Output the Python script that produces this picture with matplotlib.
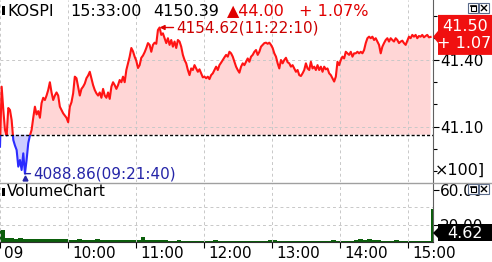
import numpy as np
import matplotlib
matplotlib.use("Agg")
import matplotlib.pyplot as plt
from matplotlib.patches import Rectangle, Polygon
from matplotlib.transforms import ScaledTranslation

#--- values
index_name = "KOSPI"
last_time = "15:33:00"
prev_close = 4106.39
close = 4150.39
high_time = "11:22:10"
low_time = "09:21:40"

# index level, one sample every 88 s starting 09:00
price_morning = [
    4101, 4128, 4117.5, 4108.5, 4106, 4118.4, 4117.5, 4113, 4104, 4101.5,
    4099.5, 4092, 4095, 4090.5, 4098, 4088.86, 4095, 4102.6, 4106, 4108.5,
    4114, 4119, 4115.5, 4117, 4114, 4120.6, 4123, 4122, 4124, 4126.5,
    4130, 4125.4, 4122, 4124, 4125.4, 4124, 4119, 4117.5, 4116, 4115,
    4114, 4112, 4119, 4121, 4125, 4132.5, 4131.8, 4128, 4124, 4127,
    4128, 4129.4, 4131.8, 4133, 4134.7, 4131.8, 4128.7, 4126.5, 4125, 4124,
    4125.4, 4123, 4127, 4124, 4123, 4125.4, 4122.5, 4128, 4130, 4128.7,
    4127, 4128.7, 4131, 4130, 4132.5, 4130, 4135.5, 4138.6, 4141.5, 4145.4,
    4143.9, 4141.5, 4139.6, 4136.4,
]
price_midday = [
    4137.7, 4141, 4142, 4143.5, 4145.4, 4147.6, 4146.8, 4143.7, 4146.8, 4147.8,
    4147.3, 4153.5, 4154.62, 4151.3, 4152, 4149.8, 4147.6, 4149.8, 4146.8, 4149,
    4146, 4148.3, 4145.4, 4149, 4148.3, 4146, 4142.3, 4140, 4138.5, 4135.5,
    4133.2, 4136.2, 4135.5, 4137.7, 4136.2, 4134.7, 4135.8, 4134, 4132.2, 4132.5,
    4131.8, 4132.5, 4131.4, 4133.2, 4134, 4135.5, 4137, 4135.5, 4137.7, 4138.8,
    4140, 4141.2, 4142.3, 4141.5, 4143.7, 4143, 4141.5, 4139.2, 4137, 4135.5,
    4134.3, 4137, 4138.5, 4137.7, 4139.2, 4140.7, 4139.2, 4141.5, 4142.3, 4143.7,
    4144.5, 4142.3, 4143.7, 4146, 4146.8, 4147.6, 4147.8, 4147.3, 4147.8, 4146.8,
    4145.4, 4143, 4141.5, 4138.5, 4136.2, 4140, 4138.5,
]
price_afternoon = [
    4140, 4141, 4139, 4138.5, 4137, 4137.7, 4136.2, 4134.7, 4135.5, 4133.2,
    4132.8, 4134, 4135.5, 4138.5, 4136.2, 4135.5, 4139.2, 4136.2, 4137, 4135.5,
    4137.7, 4135.5, 4137, 4134.7, 4137, 4135.8, 4136.2, 4134, 4133.2, 4131.8,
    4130.3, 4132.5, 4139.2, 4137.7, 4140, 4141.5, 4140.7, 4143.7, 4143, 4142.3,
    4143.7, 4141.5, 4143, 4143, 4143.7, 4143, 4143.7, 4143, 4144.5, 4147.6,
    4149.8, 4150.5, 4149.8, 4150.5, 4149, 4149.8, 4148.3, 4146.8, 4143, 4146,
    4147.6, 4149, 4149.8, 4148.3, 4149.8, 4149, 4148.3, 4149.8, 4149, 4147.6,
    4148.3, 4148.7, 4147.6, 4146.8, 4148.7, 4150.5, 4149.8, 4151.3, 4150.5, 4151.3,
    4149.8, 4150.8, 4150.5, 4151.3, 4150.2, 4150.8, 4151.3, 4150.2, 4150.39,
]
sample_sec = 88

# volume bars, one every 4 minutes
volume = [
    14, 5, 4.5, 4, 4.5, 4, 3.5, 3.5, 3, 3.5,
    3, 4, 3, 3, 3, 2.5, 2.5, 3, 2.5, 2.5,
    2, 4, 2.5, 2, 2.5, 2, 2, 2, 2.5, 2,
    2, 5.5, 2, 2, 2, 2.5, 2, 1.5, 1.5, 2,
    1.5, 1.5, 1.5, 1.5, 1.5, 1.5, 1.5, 2, 1.5, 1.5,
    1.5, 1.5, 1.5, 1.5, 1.5, 1.5, 1.5, 1.5, 1.5, 2,
    2.5, 1.5, 1.5, 1.5, 1.5, 1.5, 1.5, 1.5, 1.5, 1.5,
    1.5, 1.5, 1.5, 2, 1.5, 1.5, 1.5, 1.5, 2.5, 3,
    2, 3.5, 2.5, 2, 1.5, 1.5, 1.5, 2, 1.5, 1.5,
    1.5, 1.5, 1.5, 1.5, 1.5, 38,
]
volume_step = 4
last_volume = 4.62

hour_labels = ["09", "10:00", "11:00", "12:00", "13:00", "14:00", "15:00"]

#--- derived
price = np.array(price_morning + price_midday + price_afternoon)
t = np.arange(len(price)) * sample_sec / 60.0
vol = np.array(volume)
tv = np.arange(len(vol)) * volume_step
change = close - prev_close
pct = change / prev_close * 100

RED = "#ff1414"
BLUE = "#2b2bff"
GRID = "#c8c8c8"
W, H = 492, 262

fig = plt.figure(figsize=(W / 100, H / 100), dpi=100)
ax = fig.add_axes([0, 80 / H, 433 / W, 182 / H])
ax2 = fig.add_axes([0, 20 / H, 433 / W, 59 / H])

# price panel
ax.fill_between(t, price, prev_close, where=price >= prev_close, interpolate=True,
                color="#ffd6d6", lw=0)
ax.fill_between(t, price, prev_close, where=price <= prev_close, interpolate=True,
                color="#cdcdff", lw=0)
red_line, = ax.plot(t, price, color=RED, lw=1.5)
blue_line, = ax.plot(t, price, color=BLUE, lw=1.5)
red_line.set_clip_path(Rectangle((-50, prev_close), 600, 500, transform=ax.transData))
blue_line.set_clip_path(Rectangle((-50, prev_close - 500), 600, 500, transform=ax.transData))
ax.axhline(prev_close, color="black", lw=1, linestyle=(0, (2.2, 1.5)))

ax.set_xlim(0, 382)
ax.set_ylim(4085.1, 4167.0)
ax.set_xticks(np.arange(0, 361, 60))
ax.set_yticks([4110, 4140])
ax.set_yticks([4090, 4100, 4120, 4130, 4150, 4160], minor=True)
ax.set_yticklabels([f"{v / 100:.2f}" for v in [4110, 4140]])
ax.yaxis.tick_right()
ax.tick_params(axis="x", bottom=False, labelbottom=False)
ax.tick_params(axis="y", which="major", direction="out", length=4, width=0.8,
               pad=1, labelsize=11)
ax.tick_params(axis="y", which="minor", direction="out", length=3, width=0.8)
ax.grid(True, color=GRID, lw=0.7, linestyle=(0, (3, 3)))
for s in ["left", "top", "bottom"]:
    ax.spines[s].set_visible(False)
ax.spines["right"].set_color("#606060")

# high / low notes
i_hi = int(np.argmax(price))
i_lo = int(np.argmin(price))
ax.annotate(f"{price[i_hi]:.2f}({high_time})", xy=(t[i_hi], price[i_hi]),
            xytext=(12, 0), textcoords="offset points", ha="left", va="center",
            color="#cc0000", fontsize=11,
            arrowprops=dict(arrowstyle="-|>", color="#dd0000", lw=1,
                            shrinkA=0, shrinkB=0, mutation_scale=7))
ax.annotate(f"{price[i_lo]:.2f}({low_time})", xy=(t[i_lo], price[i_lo]),
            xytext=(6, 0), textcoords="offset points", ha="left", va="center",
            color="#2525a8", fontsize=11,
            arrowprops=dict(arrowstyle="-", color="#2525a8", lw=1,
                            shrinkA=0, shrinkB=0))
ax.plot(t[i_lo], price[i_lo], marker="^", ms=3.5, color="#2525a8",
        transform=ax.transData + ScaledTranslation(0, -3 / 72, fig.dpi_scale_trans))

# volume panel
ax2.bar(tv, vol, width=volume_step, align="edge", color="#0b5e0b", lw=0)
ax2.set_xlim(0, 382)
ax2.set_ylim(0, 68)
for g in [40, 20]:
    ax2.axhline(g, color=GRID, lw=0.7, linestyle=(0, (3, 3)), zorder=0)
ax2.set_xticks(np.arange(0, 361, 60))
ax2.set_xticklabels(hour_labels)
ax2.set_yticks([20, 60])
ax2.set_yticklabels(["20.00", "60.00"])
ax2.yaxis.tick_right()
ax2.grid(True, axis="x", color=GRID, lw=0.7, linestyle=(0, (3, 3)))
ax2.tick_params(axis="x", direction="out", length=4, width=0.8, pad=-0.8,
                labelsize=11)
ax2.tick_params(axis="y", direction="out", length=4, width=0.8, pad=1, labelsize=11)
for lab in ax2.get_xticklabels():
    lab.set_horizontalalignment("left")
    lab.set_transform(lab.get_transform() + ScaledTranslation(3 / 72, 0, fig.dpi_scale_trans))
ax2.spines["left"].set_visible(False)
ax2.spines["top"].set_visible(False)
ax2.spines["right"].set_color("#606060")
ax2.spines["bottom"].set_color("#303030")

# overlay in pixel units for the header, boxes and window buttons
ov = fig.add_axes([0, 0, 1, 1], zorder=10)
ov.set_xlim(0, W)
ov.set_ylim(H, 0)
ov.axis("off")

ov.plot([0, W], [182.5, 182.5], color="#a0a0a0", lw=1)

ov.add_patch(Rectangle((2, 6), 3, 9, color="black", lw=0))
ov.text(7, 11, index_name, fontsize=11.5, va="center", ha="left")
ov.text(70, 11, last_time, fontsize=11.5, va="center", ha="left")
ov.text(153, 11, f"{close:.2f}", fontsize=11.5, va="center", ha="left")
ov.text(227, 11, f"\u25b2{change:.2f}", fontsize=11.5, va="center", ha="left", color="#e00000")
ov.text(299, 11, f"+ {pct:.2f}%", fontsize=11.5, va="center", ha="left", color="#e00000")

ov.add_patch(Rectangle((2, 188), 3, 8, color="black", lw=0))
ov.text(7, 192, "VolumeChart", fontsize=11, va="center", ha="left")

ov.text(435, 170, "\u00d7100]", fontsize=11.5, va="center", ha="left")

# current price tag
yc = H - ax.transData.transform((0, close))[1]
ov.add_patch(Polygon([(433, yc), (438, yc - 6), (438, yc - 22), (W + 2, yc - 22),
                      (W + 2, yc + 18), (438, yc + 18), (438, yc + 6)],
                     closed=True, color="#f01010", lw=0))
ov.text(442, yc - 10, f"{close / 100:.2f}", color="white", fontsize=11.5, va="center", ha="left")
ov.text(437, yc + 7, f"+ {pct:.2f}%", color="white", fontsize=11.5, va="center", ha="left")

# last volume tag
ov.add_patch(Polygon([(433, 233), (438, 228), (438, 224), (W + 2, 224), (W + 2, 241),
                      (438, 241), (438, 238)], closed=True, color="black", lw=0))
ov.text(447, 233, f"{last_volume:.2f}", color="white", fontsize=11.5, va="center", ha="left")

# little window buttons
for y0 in [3, 184]:
    ov.add_patch(Rectangle((468, y0), 10, 10, facecolor="white", edgecolor="#5a6a8a", lw=0.8))
    ov.add_patch(Rectangle((470.5, y0 + 2.5), 5, 5, facecolor="none", edgecolor="black", lw=0.8))
    ov.plot([470.5, 475.5], [y0 + 3, y0 + 3], color="black", lw=1.2)
    ov.add_patch(Rectangle((479, y0), 10, 10, facecolor="white", edgecolor="#5a6a8a", lw=0.8))
    ov.plot([481.5, 486.5], [y0 + 2.5, y0 + 7.5], color="black", lw=1)
    ov.plot([481.5, 486.5], [y0 + 7.5, y0 + 2.5], color="black", lw=1)

fig.savefig("out.png", dpi=100)
